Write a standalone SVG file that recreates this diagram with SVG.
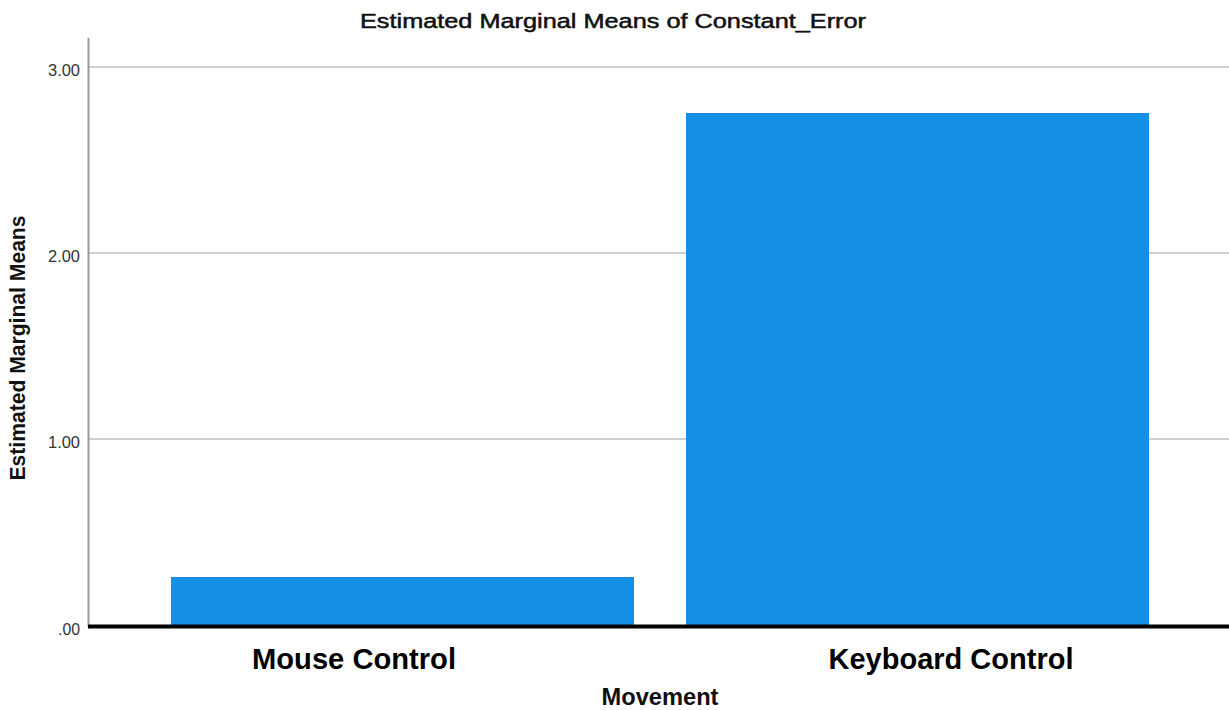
<svg xmlns="http://www.w3.org/2000/svg" width="1229" height="710" viewBox="0 0 1229 710">
<style>
.grid{stroke:#cfcfcf;stroke-width:2}
.tick{font-family:"Liberation Sans",Arial,sans-serif;font-size:16px;fill:#333;text-anchor:end}
.bar{fill:#1491e6}
.cat{font-family:"Liberation Sans",Arial,sans-serif;font-size:29px;font-weight:bold;fill:#000;text-anchor:middle}
</style>
<rect width="1229" height="710" fill="#fff"/>
<text x="613" y="28" font-family="Liberation Sans,Arial,sans-serif" font-size="20" text-anchor="middle" fill="#111" stroke="#111" stroke-width="0.5" textLength="506" lengthAdjust="spacingAndGlyphs">Estimated Marginal Means of Constant_Error</text>
<g id="gridlines">
<line class="grid" x1="89" y1="67" x2="1229" y2="67"/>
<line class="grid" x1="89" y1="253" x2="1229" y2="253"/>
<line class="grid" x1="89" y1="439" x2="1229" y2="439"/>
</g>
<g id="ticks">
<text class="tick" x="80" y="76" textLength="32" lengthAdjust="spacingAndGlyphs">3.00</text>
<text class="tick" x="80" y="262" textLength="32" lengthAdjust="spacingAndGlyphs">2.00</text>
<text class="tick" x="80" y="448" textLength="32" lengthAdjust="spacingAndGlyphs">1.00</text>
<text class="tick" x="80" y="635" textLength="22" lengthAdjust="spacingAndGlyphs">.00</text>
</g>
<g id="bar-mouse"><rect class="bar" x="171" y="577" width="463" height="49"/></g>
<g id="bar-keyboard"><rect class="bar" x="686" y="113" width="463" height="513"/></g>
<g id="axes">
<line x1="88.5" y1="38" x2="88.5" y2="627" stroke="#9a9a9a" stroke-width="2"/>
<line x1="88" y1="626.5" x2="1229" y2="626.5" stroke="#000" stroke-width="4"/>
</g>
<text class="cat" x="354" y="669" textLength="204" lengthAdjust="spacingAndGlyphs">Mouse Control</text>
<text class="cat" x="951" y="669" textLength="245" lengthAdjust="spacingAndGlyphs">Keyboard Control</text>
<text x="660" y="705" font-family="Liberation Sans,Arial,sans-serif" font-size="23" font-weight="bold" text-anchor="middle" fill="#111" textLength="117" lengthAdjust="spacingAndGlyphs">Movement</text>
<text transform="translate(25,348) rotate(-90)" font-family="Liberation Sans,Arial,sans-serif" font-size="22" font-weight="bold" text-anchor="middle" fill="#111" textLength="265" lengthAdjust="spacingAndGlyphs">Estimated Marginal Means</text>
</svg>
